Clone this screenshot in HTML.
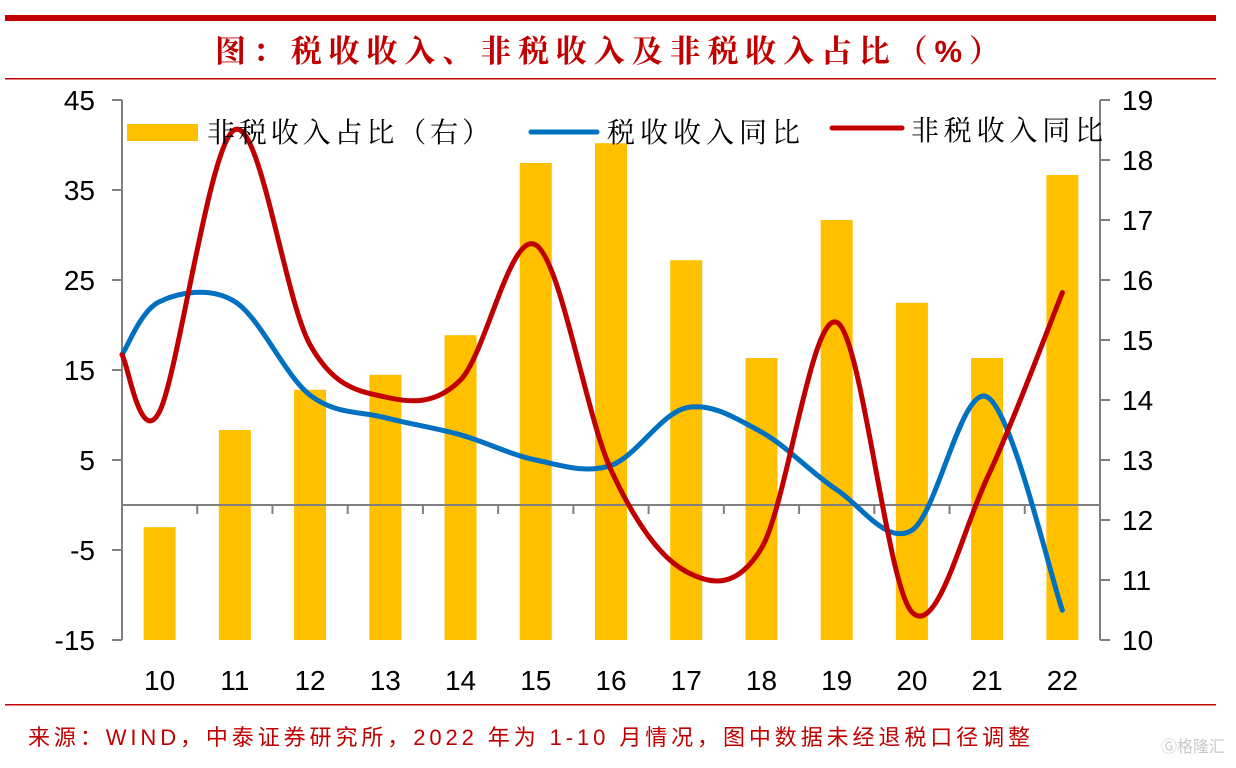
<!DOCTYPE html>
<html><head><meta charset="utf-8"><style>
html,body{margin:0;padding:0;background:#fff;width:1236px;height:768px;overflow:hidden}
svg{display:block}
</style></head><body>
<svg id="chart" width="1236" height="768" xmlns="http://www.w3.org/2000/svg">
<rect x="5" y="15" width="1211" height="6" fill="#C00000"/>
<text x="215" y="62" textLength="785" lengthAdjust="spacing" font-family="'Liberation Sans','Noto Serif CJK SC','Noto Sans CJK SC',sans-serif" font-size="31" font-weight="bold" fill="#C00000">图：税收收入、非税收入及非税收入占比（%）</text>
<rect x="5" y="78" width="1211" height="1.5" fill="#C00000"/>
<rect x="5" y="704" width="1211" height="1.5" fill="#C00000"/>
<text x="28" y="745" textLength="1002" lengthAdjust="spacing" font-family="'Liberation Sans','Noto Sans CJK SC',sans-serif" font-size="22" fill="#C00000">来源：WIND，中泰证券研究所，2022 年为 1-10 月情况，图中数据未经退税口径调整</text>
<text x="1225" y="752" text-anchor="end" font-family="'Liberation Sans','Noto Sans CJK SC',sans-serif" font-size="16" fill="#c8c8c8">Ⓖ格隆汇</text>
<g id="plot"></g>
</svg>
<script>
const categories = ['10','11','12','13','14','15','16','17','18','19','20','21','22'];
const nonTaxShare = [11.88,13.5,14.17,14.42,15.08,17.95,18.28,16.33,14.7,17.0,15.62,14.7,17.75];
const lineX = [-0.5,0,1,2,3,4,5,6,7,8,9,10,11,12];
const taxYoY = [16.7,22.6,22.6,12.2,9.7,7.8,5.0,4.4,10.8,8.1,1.7,-2.8,12.0,-11.7];
const nonTaxYoY = [16.7,10.4,41.7,17.8,12.0,13.9,28.9,3.9,-7.4,-4.8,20.3,-11.9,3.0,23.6];
const leftTicks = [45,35,25,15,5,-5,-15];
const rightTicks = [19,18,17,16,15,14,13,12,11,10];

const NS='http://www.w3.org/2000/svg';
const g=document.getElementById('plot');
const X0=122,X1=1100,Y0=100,Y1=640;
const step=(X1-X0)/categories.length;
const xc=i=>X0+step*(i+0.5);
const yl=v=>Y0+(45-v)/60*(Y1-Y0);
const yr=v=>Y0+(19-v)/9*(Y1-Y0);
function mk(tag,attrs){const e=document.createElementNS(NS,tag);for(const k in attrs)e.setAttribute(k,attrs[k]);g.appendChild(e);return e;}
const FONT="'Liberation Sans','Noto Sans CJK SC',sans-serif";
const LFONT="'Liberation Serif','Noto Serif CJK SC',serif";

nonTaxShare.forEach((v,i)=>{
  const e=mk('rect',{x:xc(i)-16,y:yr(v),width:32,height:Y1-yr(v),fill:'#FFC000'});
  
  
});
let a=mk('line',{x1:X0,y1:Y0,x2:X0,y2:Y1,stroke:'#808080','stroke-width':2});


a=mk('line',{x1:X1,y1:Y0,x2:X1,y2:Y1,stroke:'#808080','stroke-width':2});


a=mk('line',{x1:X0,y1:yl(0),x2:X1,y2:yl(0),stroke:'#808080','stroke-width':2});


for(let i=0;i<=categories.length;i++){
  const t=mk('line',{x1:X0+step*i,y1:yl(0),x2:X0+step*i,y2:yl(0)+9,stroke:'#808080','stroke-width':2});
  
  
}
leftTicks.forEach(v=>{
  const t=mk('line',{x1:X0-10,y1:yl(v),x2:X0,y2:yl(v),stroke:'#808080','stroke-width':2});
  
  
  const l=mk('text',{x:X0-27,y:yl(v)+10,'text-anchor':'end','font-family':FONT,'font-size':28,fill:'#000'});
  l.textContent=v;
  
  
});
rightTicks.forEach(v=>{
  const t=mk('line',{x1:X1,y1:yr(v),x2:X1+10,y2:yr(v),stroke:'#808080','stroke-width':2});
  
  
  const l=mk('text',{x:X1+22,y:yr(v)+10,'font-family':FONT,'font-size':28,fill:'#000'});
  l.textContent=v;
  
  
});
categories.forEach((c,i)=>{
  const l=mk('text',{x:xc(i),y:690,'text-anchor':'middle','font-family':FONT,'font-size':28,fill:'#000'});
  l.textContent=c;
  
  
});
function smooth(xs,ys){
  const p=xs.map((x,i)=>[xc(x),yl(ys[i])]);
  let d='M'+p[0][0]+','+p[0][1];
  for(let i=0;i<p.length-1;i++){
    const p0=p[i-1]||p[i],p1=p[i],p2=p[i+1],p3=p[i+2]||p2;
    const t=1/6;
    d+=' C'+(p1[0]+(p2[0]-p0[0])*t)+','+(p1[1]+(p2[1]-p0[1])*t)+' '+(p2[0]-(p3[0]-p1[0])*t)+','+(p2[1]-(p3[1]-p1[1])*t)+' '+p2[0]+','+p2[1];
  }
  return d;
}
let s=mk('path',{d:smooth(lineX,taxYoY),fill:'none',stroke:'#0070C0','stroke-width':5,'stroke-linecap':'round','stroke-linejoin':'round'});


s=mk('path',{d:smooth(lineX,nonTaxYoY),fill:'none',stroke:'#C00000','stroke-width':5,'stroke-linecap':'round','stroke-linejoin':'round'});


let e=mk('rect',{x:127,y:124,width:71,height:17,fill:'#FFC000'});


e=mk('text',{x:207,y:142,textLength:283,lengthAdjust:'spacing','font-family':LFONT,'font-size':28,fill:'#000'});
e.textContent='非税收入占比（右）';


e=mk('line',{x1:531,y1:132,x2:597,y2:132,stroke:'#0070C0','stroke-width':5,'stroke-linecap':'round'});


e=mk('text',{x:607,y:142,textLength:193,lengthAdjust:'spacing','font-family':LFONT,'font-size':28,fill:'#000'});
e.textContent='税收收入同比';


e=mk('line',{x1:832,y1:128,x2:902,y2:128,stroke:'#C00000','stroke-width':5,'stroke-linecap':'round'});


e=mk('text',{x:911,y:140,textLength:192,lengthAdjust:'spacing','font-family':LFONT,'font-size':28,fill:'#000'});
e.textContent='非税收入同比';


</script>
</body></html>
